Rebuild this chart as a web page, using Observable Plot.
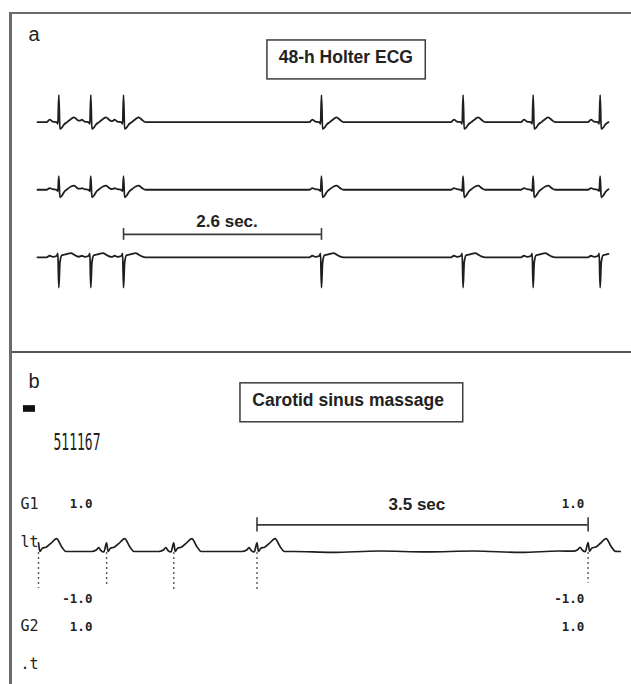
<!DOCTYPE html>
<html><head><meta charset="utf-8">
<script src="https://cdn.jsdelivr.net/npm/d3@7"></script>
<script src="https://cdn.jsdelivr.net/npm/@observablehq/plot@0.6"></script>
<style>
html,body{margin:0;padding:0;background:#fff;overflow:hidden}
#root{position:relative;width:631px;height:684px;overflow:hidden;background:#fff;font-family:"Liberation Sans",Arial,sans-serif}
#frame{position:absolute;left:9px;top:12px;width:640px;height:700px;border-left:3px solid #6b6b6b;border-top:2px solid #6b6b6b;overflow:hidden}
#pa{position:absolute;left:0;top:0}
#divider{position:absolute;left:0;top:337px;width:640px;height:2px;background:#555}
#pb{position:absolute;left:0;top:339px}
</style></head><body>
<div id="root"><div id="frame"><div id="pa"></div><div id="divider"></div><div id="pb"></div></div></div>
<script>
// ---------- Panel a: 48-h Holter ECG (time in s, amplitude in mV) ----------
const panelLabels = ["a", "b"];
const titleA = "48-h Holter ECG";
const beatsA = [0.28, 0.70, 1.13, 3.73, 5.59, 6.51, 7.39];
const spanA = [0, 7.5];
const leadOffsetsA = [0, -2.5, -5];
const dtA = [-0.16, -0.12, -0.08, -0.03, -0.012, 0, 0.014, 0.04, 0.07, 0.11, 0.16, 0.20, 0.24, 0.29];
const lead1A = [0, 0.09, 0.02, 0, -0.06, 1.0, -0.25, -0.2, -0.08, 0, 0.12, 0.18, 0.09, 0];
const lead2A = [0, 0.06, 0.02, 0, -0.05, 0.5, -0.28, -0.22, -0.08, 0.02, 0.12, 0.15, 0.07, 0];
const lead3A = [0, 0.06, 0.02, 0.05, 0.15, -1.12, -0.2, 0.08, 0.1, 0.13, 0.16, 0.1, 0.04, 0];
const pauseA = [1.13, 3.73];
const pauseLabelA = "2.6 sec.";

// ---------- Panel b: carotid sinus massage ----------
const titleB = "Carotid sinus massage";
const recordId = "511167";
const beatsB = [0.0, 0.72, 1.43, 2.31, 5.81];
const spanB = [0, 6.15];
const dtB = [-0.16, -0.11, -0.085, -0.06, -0.03, 0, 0.015, 0.04, 0.08, 0.13, 0.19, 0.245, 0.29, 0.34];
const leadB = [0, 0.03, 0.08, 0.02, -0.01, 0.18, 0.0, 0.07, 0.09, 0.17, 0.27, 0.1, 0.0, 0];
const sDepthB = [-0.78, -0.7, -0.86, -0.82, -0.67];
const driftTB = [2.7, 3.1, 3.6, 4.1, 4.6, 5.1, 5.5];
const driftVB = [0.0, -0.02, 0.01, -0.01, 0.01, -0.02, 0.01];
const pauseB = [2.31, 5.81];
const pauseLabelB = "3.5 sec";
const channelOffsetsB = [0, -2.58];
const channelNames = ["G1", "G2"];
const leadNames = ["lt", ".t"];
const gainLevels = [1, -1];
const gainText = ["1.0", "-1.0"];

// ---------- helpers ----------
function interp(xs, ys, t) {
  if (t <= xs[0] || t >= xs[xs.length - 1]) return 0;
  let i = 1; while (xs[i] < t) i++;
  const f = (t - xs[i - 1]) / (xs[i] - xs[i - 1]);
  return ys[i - 1] + f * (ys[i] - ys[i - 1]);
}
function buildTrace(beats, dts, vals, span, offset, lead, dT = [], dV = []) {
  const ts = new Set(span);
  beats.forEach(b => dts.forEach(d => { const t = +(b + d).toFixed(4); if (t >= span[0] && t <= span[1]) ts.add(t); }));
  dT.forEach(t => ts.add(t));
  return [...ts].sort((a, b) => a - b).map(t => ({
    lead, t,
    v: offset + beats.reduce((s, b) => s + interp(dts, vals, t - b), 0) + (dT.length ? interp([span[0], ...dT, span[1]], [0, ...dV, 0], t) : 0)
  }));
}

const traceA = [
  ...buildTrace(beatsA, dtA, lead1A, spanA, leadOffsetsA[0], 1),
  ...buildTrace(beatsA, dtA, lead2A, spanA, leadOffsetsA[1], 2),
  ...buildTrace(beatsA, dtA, lead3A, spanA, leadOffsetsA[2], 3)
];
const traceB = buildTrace(beatsB, dtB, leadB, spanB, channelOffsetsB[0], 1, driftTB, driftVB);

const SANS = "Liberation Sans, Arial, sans-serif";
const MONO = "DejaVu Sans Mono, monospace";

// ---------- plot a ----------
const plotA = Plot.plot({
  width: 619, height: 337,
  marginLeft: 25, marginRight: 23, marginTop: 0, marginBottom: 0,
  x: {domain: [0, 7.5], axis: null},
  y: {domain: [-8.48, 3.98], axis: null},
  style: {background: "transparent", overflow: "visible"},
  marks: [
    Plot.line(traceA, {x: "t", y: "v", z: "lead", stroke: "#1e1e1e", strokeWidth: 1.8, strokeLinejoin: "round", curve: "monotone-x"}),
    Plot.ruleY([pauseA], {x1: d => d[0], x2: d => d[1], y: -4.15, stroke: "#3a3a3a", strokeWidth: 1.6}),
    Plot.ruleX(pauseA, {x: d => d, y1: -4.37, y2: -3.93, stroke: "#3a3a3a", strokeWidth: 1.6}),
    Plot.text([pauseLabelA], {x: 2.49, y: -3.66, text: d => d, fontSize: 17, fontWeight: "bold", fontFamily: SANS, fill: "#222"}),
    Plot.rect([0], {x1: 3.02, x2: 5.10, y1: 1.58, y2: 3.02, fill: "none", stroke: "#3c3c3c", strokeWidth: 1.5}),
    Plot.text([titleA], {x: 4.05, y: 2.38, text: d => d, fontSize: 17.5, fontWeight: "bold", fontFamily: SANS, fill: "#222"}),
    Plot.text([panelLabels[0]], {x: -0.118, y: 3.22, text: d => d, fontSize: 20, fontFamily: SANS, textAnchor: "start", fill: "#222"})
  ]
});
document.getElementById("pa").appendChild(plotA);

// ---------- plot b ----------
const yDomainB = [-2.8, 4.168];
const gainRows = [];
channelOffsetsB.forEach(off => [0.57, 5.77].forEach(x => gainLevels.forEach((g, i) => {
  if (off + g > yDomainB[0] + 0.2) gainRows.push({x, y: off + g, label: gainText[i]});
})));
const nameRows = channelOffsetsB.map((off, i) => ({y: off + 1, name: channelNames[i], y2: off + 0.2, lead: leadNames[i]}));

const plotB = Plot.plot({
  width: 619, height: 331,
  marginLeft: 26, marginRight: 6.5, marginTop: 0, marginBottom: 0,
  x: {domain: [0, 6.2], axis: null},
  y: {domain: yDomainB, axis: null},
  style: {background: "transparent", overflow: "visible"},
  marks: [
    Plot.ruleX(beatsB.map((b, i) => ({t: b, d: sDepthB[i]})), {x: "t", y1: -0.02, y2: "d", stroke: "#555", strokeWidth: 1.4, strokeDasharray: "2,3"}),
    Plot.line(traceB, {x: "t", y: "v", stroke: "#1e1e1e", strokeWidth: 1.7, strokeLinejoin: "round", curve: "monotone-x"}),
    Plot.ruleY([pauseB], {x1: d => d[0], x2: d => d[1], y: 0.56, stroke: "#3a3a3a", strokeWidth: 1.6}),
    Plot.ruleX(pauseB, {x: d => d, y1: 0.41, y2: 0.71, stroke: "#3a3a3a", strokeWidth: 1.6}),
    Plot.text([pauseLabelB], {x: 4.0, y: 0.98, text: d => d, fontSize: 17, fontWeight: "bold", fontFamily: SANS, fill: "#222"}),
    Plot.rect([0], {x1: 2.135, x2: 4.49, y1: 2.72, y2: 3.54, fill: "none", stroke: "#3c3c3c", strokeWidth: 1.5}),
    Plot.text([titleB], {x: 2.26, y: 3.19, text: d => d, textAnchor: "start", fontSize: 17.5, fontWeight: "bold", fontFamily: SANS, fill: "#222"}),
    Plot.text([panelLabels[1]], {x: -0.106, y: 3.57, text: d => d, fontSize: 20, fontFamily: SANS, textAnchor: "start", fill: "#222"}),
    Plot.rect([0], {x1: -0.159, x2: -0.032, y1: 2.93, y2: 3.07, fill: "#111"}),
    Plot.text([recordId], {x: 0.159, y: 2.29, text: d => d, fontSize: 23, fontFamily: MONO, textAnchor: "start", fill: "#222"}),
    Plot.text(gainRows, {x: "x", y: "y", text: "label", fontSize: 12.5, fontWeight: "bold", fontFamily: MONO, textAnchor: "end", fill: "#222"}),
    Plot.text(nameRows, {x: 0, y: "y", text: "name", fontSize: 15, fontFamily: MONO, textAnchor: "end", fill: "#222"}),
    Plot.text(nameRows, {x: 0, y: "y2", text: "lead", fontSize: 15, fontFamily: MONO, textAnchor: "end", fill: "#222"})
  ]
});
document.getElementById("pb").appendChild(plotB);
d3.select(plotB).selectAll("text").filter(function () { return this.textContent === recordId; })
  .attr("textLength", 47).attr("lengthAdjust", "spacingAndGlyphs");
</script></body></html>
